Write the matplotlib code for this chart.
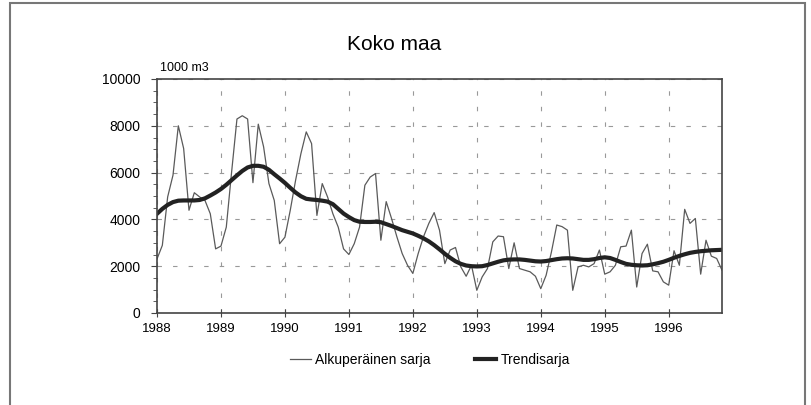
import numpy as np
import matplotlib
matplotlib.use("Agg")
import matplotlib.pyplot as plt
from matplotlib.patches import Rectangle
from matplotlib.ticker import MultipleLocator

plt.rcParams['font.family'] = ['Liberation Sans', 'DejaVu Sans']

# monthly data Jan 1988 - Nov 1996, 1000 m3
alkuperainen = [
    2310, 2890, 4960, 5890, 8000, 7030, 4390, 5140, 4960, 4810, 4240, 2740,
    2860, 3670, 6030, 8290, 8430, 8290, 5570, 8070, 7100, 5530, 4810, 2960,
    3240, 4390, 5670, 6810, 7740, 7240, 4170, 5530, 4960, 4240, 3670, 2740,
    2500, 2960, 3670, 5460, 5810, 5960, 3110, 4760, 4040, 3260, 2540, 2040,
    1690, 2540, 3260, 3830, 4290, 3540, 2110, 2690, 2800, 1970, 1570, 2040,
    970, 1540, 1900, 3040, 3290, 3260, 1900, 3000, 1900, 1830, 1760, 1570,
    1040, 1610, 2610, 3760, 3690, 3540, 970, 1970, 2040, 1970, 2110, 2690,
    1660, 1760, 2040, 2830, 2860, 3540, 1110, 2540, 2940, 1800, 1760, 1330,
    1190, 2660, 2040, 4430, 3830, 4040, 1660, 3110, 2430, 2330, 1830,
]
trendi = [
    4240, 4450, 4620, 4740, 4800, 4810, 4810, 4810, 4830, 4900, 5020, 5150,
    5300, 5480, 5680, 5880, 6070, 6220, 6290, 6290, 6250, 6120, 5930, 5750,
    5560, 5350, 5150, 4990, 4880, 4850, 4830, 4800, 4760, 4650, 4450, 4250,
    4100, 3970, 3900, 3890, 3890, 3900, 3880, 3800, 3720, 3630, 3540, 3470,
    3400, 3300, 3190, 3060, 2900, 2720, 2530, 2360, 2210, 2100, 2030, 2000,
    1990, 2000, 2050, 2120, 2190, 2250, 2280, 2290, 2290, 2270, 2240, 2210,
    2200, 2220, 2260, 2300, 2330, 2340, 2330, 2300, 2270, 2270, 2300, 2350,
    2380, 2350, 2270, 2180, 2100, 2060, 2040, 2030, 2040, 2080, 2130, 2190,
    2270, 2360, 2440, 2510, 2570, 2610, 2640, 2660, 2680, 2690, 2700,
]
vuodet = list(range(1988, 1997))

aika = 1988 + np.arange(len(alkuperainen)) / 12.0

fig = plt.figure(figsize=(8.11, 4.05), dpi=100)
ax = fig.add_axes([157 / 811, 1 - 313 / 405, (722 - 157) / 811, (313 - 79) / 405])

ax.plot(aika, alkuperainen, color='#5a5a5a', lw=0.9, label='Alkuperäinen sarja')
ax.plot(aika, trendi, color='#222222', lw=3.0, label='Trendisarja')

ax.set_xlim(1988, aika[-1])
ax.set_ylim(0, 10000)
ax.set_xticks(vuodet)
ax.set_yticks(range(0, 10001, 2000))
ax.yaxis.set_minor_locator(MultipleLocator(500))
ax.tick_params(axis='y', which='both', direction='out', length=4, color='#444444',
               labelsize=10, pad=8)
ax.tick_params(axis='y', which='minor', length=3)
ax.tick_params(axis='x', direction='inout', length=6, color='#444444', labelsize=9.5, pad=4)
ax.grid(True, color='#999999', lw=0.8, linestyle=(0, (4, 10)))
for s in ax.spines.values():
    s.set_color('#444444')
    s.set_linewidth(1.2)

fig.text(394 / 811, 1 - 45 / 405, 'Koko maa', ha='center', va='center', fontsize=15)
fig.text(160 / 811, 1 - 68 / 405, '1000 m3', ha='left', va='center', fontsize=9)

fig.legend(loc='center', bbox_to_anchor=(430 / 811, 1 - 360 / 405), ncol=2,
           frameon=False, fontsize=10, handlelength=1.5, handletextpad=0.3,
           columnspacing=3.2)

fig.patches.append(Rectangle((10 / 811, -0.1), (805 - 10) / 811, 1.1 - 3 / 405,
                             transform=fig.transFigure, fill=False,
                             edgecolor='#777777', lw=1.5))

fig.savefig('out.png', dpi=100)
